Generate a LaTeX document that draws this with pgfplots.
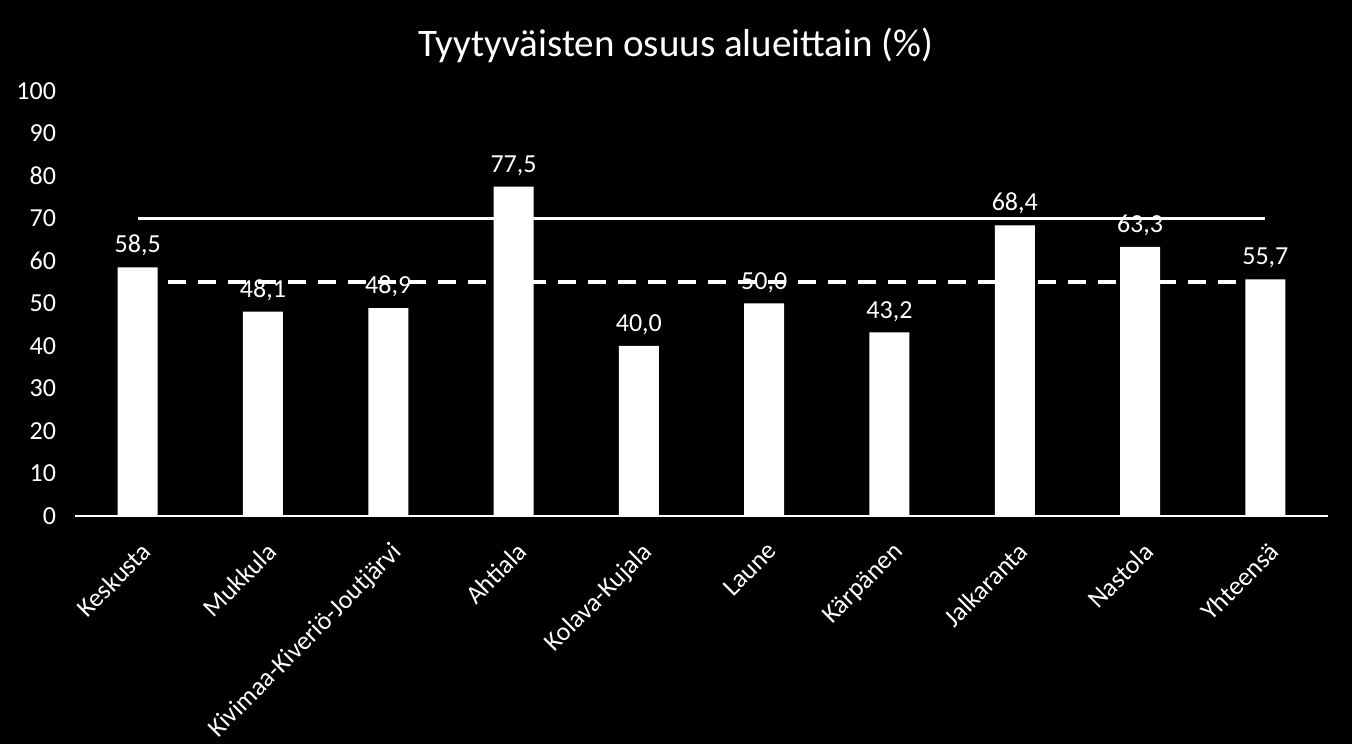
\documentclass[border=0pt]{standalone}
\usepackage{fontspec}
\setmainfont{Carlito}
\usepackage{pgfplots}
\pgfplotsset{compat=1.18}
\pgfplotstableread{
x y lab
0 58.5 58,5
1 48.1 48,1
2 48.9 48,9
3 77.5 77,5
4 40.0 40,0
5 50.0 50,0
6 43.2 43,2
7 68.4 68,4
8 63.3 63,3
9 55.7 55,7
}\datatab
\begin{document}
\begin{tikzpicture}
\fill[black] (0,0) rectangle (676pt,372pt);
\node[white, font=\fontsize{19.5}{23}\selectfont] at (338pt,349.5pt) {Tyytyväisten osuus alueittain (\%)};
\begin{axis}[
  at={(37.5pt,114pt)}, anchor=south west,
  scale only axis, width=626.5pt, height=212.5pt,
  xmin=-0.5, xmax=9.5, ymin=0, ymax=100,
  axis x line*=bottom, axis y line*=left,
  x axis line style={white, line width=0.75pt, -},
  y axis line style={draw=none},
  major tick length=0pt,
  ytick={0,10,...,100},
  xtick={0,...,9},
  xticklabels={Keskusta,Mukkula,Kivimaa-Kiveriö-Joutjärvi,Ahtiala,Kolava-Kujala,Laune,Kärpänen,Jalkaranta,Nastola,Yhteensä},
  ticklabel style={white, font=\fontsize{13}{15}\selectfont},
  /pgf/number format/assume math mode=true,
  yticklabel style={xshift=-6pt},
  xticklabel style={rotate=45, anchor=north east, xshift=-4.5pt, yshift=-6pt},
  clip=false,
]
\addplot[ybar, fill=white, draw=none, bar width=20pt,
  nodes near coords, point meta=explicit symbolic,
  nodes near coords style={white, font=\fontsize{13}{15}\selectfont, anchor=south, yshift=2pt}]
  table[x=x, y=y, meta=lab] {\datatab};
\addplot[white, line width=1.5pt] coordinates {(0,70) (9,70)};
\addplot[white, line width=2pt, dash pattern=on 9pt off 6pt] coordinates {(0,55) (9,55)};
\end{axis}
\end{tikzpicture}
\end{document}
